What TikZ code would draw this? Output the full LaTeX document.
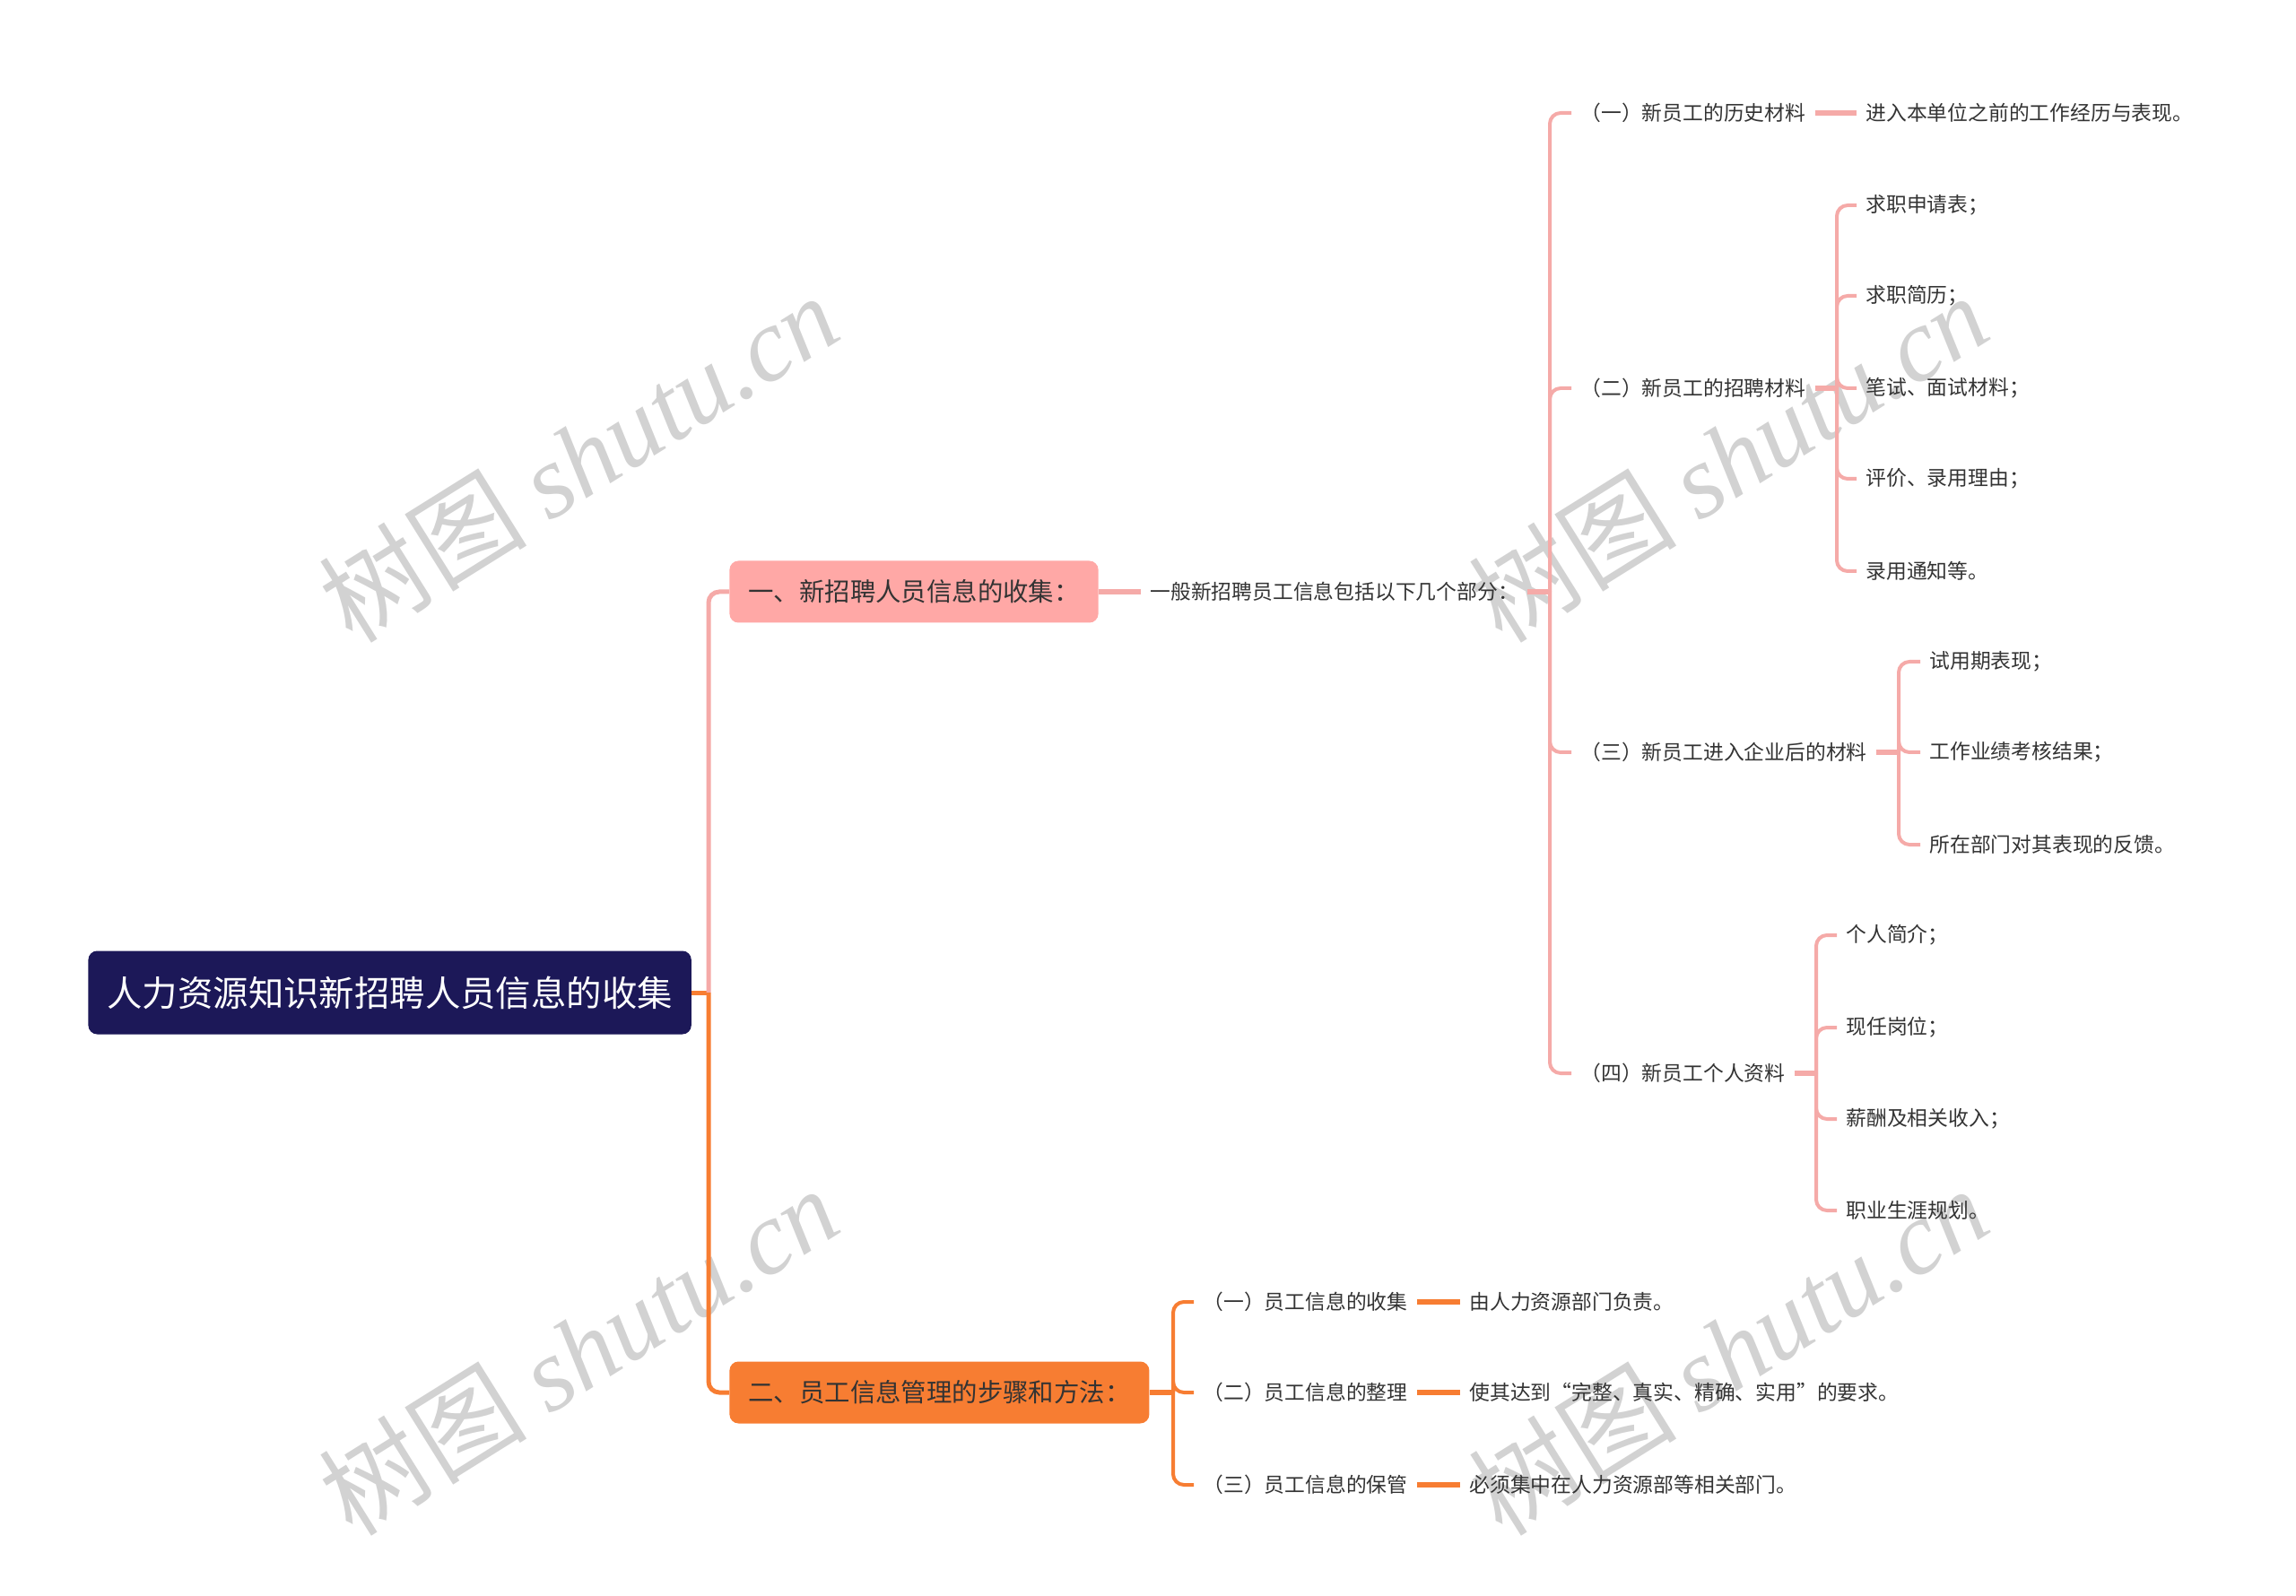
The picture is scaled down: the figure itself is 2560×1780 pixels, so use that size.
\documentclass[tikz,border=0pt]{standalone}
\usepackage{fontspec}
\setmainfont{Noto Sans CJK SC}
\newfontfamily\wmserif{Liberation Serif}
\definecolor{navy}{HTML}{1C1858}
\definecolor{boxpink}{HTML}{FFA8A6}
\definecolor{linkpink}{HTML}{F5AAA8}
\definecolor{boxorange}{HTML}{F77D32}
\definecolor{wmgray}{HTML}{D2D2D2}

\begin{document}
\begin{tikzpicture}[
		x=0.5pt,y=-0.5pt,
		every node/.style={anchor=west,inner xsep=5pt,inner ysep=2pt,text=black!80,
			font=\fontsize{11.4pt}{14pt}\selectfont},
		rootbox/.style={fill=navy,text=white,rounded corners=5pt,inner xsep=10.5pt,
			minimum height=46.5pt,font=\fontsize{19.7pt}{24pt}\selectfont},
		mainbox/.style={rounded corners=5pt,inner xsep=10.5pt,minimum height=34.5pt,
			font=\fontsize{14.2pt}{17pt}\selectfont},
		pinkline/.style={draw=linkpink,line width=2pt,rounded corners=6pt},
		orangeline/.style={draw=boxorange,line width=2pt,rounded corners=6pt},
		trunk/.style={line width=2.5pt},
		stub/.style={line width=3.2pt},
		watermark/.style={anchor=center,rotate=32,text=wmgray,
			font=\fontsize{58pt}{60pt}\selectfont}
		]
		\useasboundingbox (0,0) rectangle (2560,1780);
		\node[watermark] (wm1) at (645,510) {树图 {\wmserif\itshape shutu.cn}};
		\node[watermark] (wm2) at (1927,510) {树图 {\wmserif\itshape shutu.cn}};
		\node[watermark] (wm3) at (645,1506) {树图 {\wmserif\itshape shutu.cn}};
		\node[watermark] (wm4) at (1927,1506) {树图 {\wmserif\itshape shutu.cn}};
		
		\node[rootbox] (root) at (98,1107) {人力资源知识新招聘人员信息的收集};
		\node[mainbox,fill=boxpink] (b1) at (813,660) {一、新招聘人员信息的收集：};
		\node[mainbox,fill=boxorange] (b2) at (813,1553) {二、员工信息管理的步骤和方法：};
		
		\node (s1) at (1272,660) {一般新招聘员工信息包括以下几个部分：};
		\node (h1) at (1752,126) {（一）新员工的历史材料};
		\node (h2) at (1752,433) {（二）新员工的招聘材料};
		\node (h3) at (1752,839) {（三）新员工进入企业后的材料};
		\node (h4) at (1752,1197) {（四）新员工个人资料};
		
		\node (h1a) at (2070,126) {进入本单位之前的工作经历与表现。};
		\node (h2a) at (2070,229) {求职申请表；};
		\node (h2b) at (2070,330) {求职简历；};
		\node (h2c) at (2070,433) {笔试、面试材料；};
		\node (h2d) at (2070,534) {评价、录用理由；};
		\node (h2e) at (2070,637) {录用通知等。};
		\node (h3a) at (2141,738) {试用期表现；};
		\node (h3b) at (2141,839) {工作业绩考核结果；};
		\node (h3c) at (2141,942) {所在部门对其表现的反馈。};
		\node (h4a) at (2048,1043) {个人简介；};
		\node (h4b) at (2048,1146) {现任岗位；};
		\node (h4c) at (2048,1248) {薪酬及相关收入；};
		\node (h4d) at (2048,1350) {职业生涯规划。};
		
		\node (m1) at (1331,1452) {（一）员工信息的收集};
		\node (m2) at (1331,1553) {（二）员工信息的整理};
		\node (m3) at (1331,1656) {（三）员工信息的保管};
		\node (m1a) at (1628,1452) {由人力资源部门负责。};
		\node (m2a) at (1628,1553) {使其达到“完整、真实、精确、实用”的要求。};
		\node (m3a) at (1628,1656) {必须集中在人力资源部等相关部门。};
		
		\coordinate (k0) at (790,1107);
		\coordinate (k1) at (1728,660);
		\coordinate (k2) at (2048,433);
		\coordinate (k3) at (2117,839);
		\coordinate (k4) at (2025,1197);
		\coordinate (k5) at (1308,1553);
		
		\draw[orangeline,trunk] (root.east) -- (k0);
		\draw[pinkline,trunk] (k0) |- (b1.west);
		\draw[orangeline,trunk] (k0) |- (b2.west);
		
		\draw[pinkline,stub] (b1.east) -- (s1.west);
		\draw[pinkline,stub] (s1.east) -- (k1);
		\draw[pinkline] (k1) |- (h1.west);
		\draw[pinkline] (k1) |- (h2.west);
		\draw[pinkline] (k1) |- (h3.west);
		\draw[pinkline] (k1) |- (h4.west);
		
		\draw[pinkline,stub] (h1.east) -- (h1a.west);
		\draw[pinkline,stub] (h2.east) -- (k2);
		\draw[pinkline] (k2) |- (h2a.west);
		\draw[pinkline] (k2) |- (h2b.west);
		\draw[pinkline] (k2) |- (h2c.west);
		\draw[pinkline] (k2) |- (h2d.west);
		\draw[pinkline] (k2) |- (h2e.west);
		\draw[pinkline,stub] (h3.east) -- (k3);
		\draw[pinkline] (k3) |- (h3a.west);
		\draw[pinkline] (k3) |- (h3b.west);
		\draw[pinkline] (k3) |- (h3c.west);
		\draw[pinkline,stub] (h4.east) -- (k4);
		\draw[pinkline] (k4) |- (h4a.west);
		\draw[pinkline] (k4) |- (h4b.west);
		\draw[pinkline] (k4) |- (h4c.west);
		\draw[pinkline] (k4) |- (h4d.west);
		
		\draw[orangeline,stub] (b2.east) -- (k5);
		\draw[orangeline] (k5) |- (m1.west);
		\draw[orangeline] (k5) |- (m2.west);
		\draw[orangeline] (k5) |- (m3.west);
		\draw[orangeline,stub] (m1.east) -- (m1a.west);
		\draw[orangeline,stub] (m2.east) -- (m2a.west);
		\draw[orangeline,stub] (m3.east) -- (m3a.west);
	\end{tikzpicture}
\end{document}
